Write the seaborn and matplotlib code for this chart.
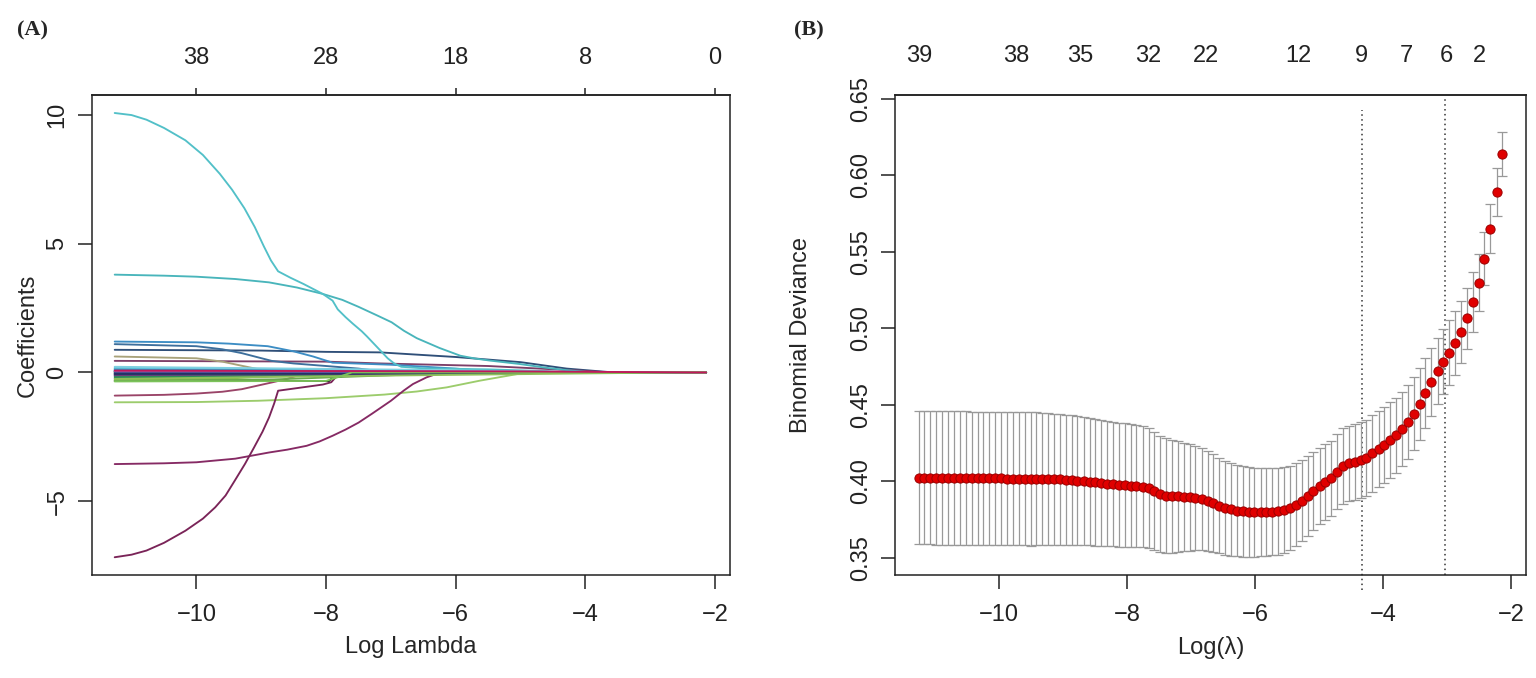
import pandas as pd
import seaborn as sns
import matplotlib.pyplot as plt


# ----------------------------
# Panel A: lasso coefficient paths (knots)
# ----------------------------

L_START, L_END = -11.26, -2.14

cyan1_L = [-11.26, -11.0, -10.77, -10.5, -10.17, -9.9, -9.64, -9.45, -9.26, -9.1,
           -8.96, -8.85, -8.74, -8.55, -8.35, -8.05, -7.90, -7.82, -7.7, -7.59,
           -7.45, -7.37, -7.2, -7.05, -6.95, -6.84, -6.5, -5.5, -4.6, -4.3]
cyan1_c = [10.08, 10.0, 9.82, 9.5, 9.02, 8.45, 7.72, 7.1, 6.38, 5.65,
           4.9, 4.35, 3.93, 3.68, 3.44, 3.05, 2.79, 2.45, 2.15, 1.9,
           1.6, 1.4, 0.95, 0.55, 0.35, 0.22, 0.16, 0.12, 0.05, 0.0]

cyan2_L = [-11.26, -10.5, -10.0, -9.4, -8.88, -8.45, -8.05, -7.75, -7.5, -7.2,
           -6.99, -6.8, -6.6, -6.25, -5.93, -5.7, -5.47, -5.02, -4.6, -4.29, -3.9]
cyan2_c = [3.80, 3.76, 3.72, 3.63, 3.50, 3.30, 3.05, 2.82, 2.55, 2.2,
           1.95, 1.62, 1.33, 0.95, 0.65, 0.54, 0.46, 0.33, 0.18, 0.09, 0.0]

blue1_L = [-11.26, -10.0, -9.5, -8.9, -8.5, -8.2, -7.9, -7.0, -6.0, -5.3]
blue1_c = [1.20, 1.17, 1.12, 1.02, 0.82, 0.62, 0.38, 0.30, 0.15, 0.0]

blue2_L = [-11.26, -10.0, -9.6, -9.3, -8.84, -8.5, -7.5, -7.0]
blue2_c = [1.10, 1.02, 0.90, 0.75, 0.45, 0.35, 0.15, 0.0]

navy_L = [-11.26, -9.0, -8.0, -7.17, -6.0, -5.0, -4.29, -3.57]
navy_c = [0.88, 0.85, 0.80, 0.78, 0.60, 0.40, 0.15, 0.0]

khaki_L = [-11.26, -10.0, -9.6, -9.3, -8.9, -8.7]
khaki_c = [0.62, 0.55, 0.42, 0.26, 0.05, 0.0]

plum_L = [-11.26, -8.0, -7.17, -5.5, -4.08, -3.6]
plum_c = [0.45, 0.42, 0.35, 0.25, 0.07, 0.0]

rose_L = [-11.26, -10.5, -10.0, -9.6, -9.3, -8.84, -8.6, -8.3]
rose_c = [-0.90, -0.87, -0.82, -0.75, -0.65, -0.39, -0.25, 0.0]

lime_L = [-11.26, -10.0, -9.05, -8.0, -7.1, -6.6, -6.14, -5.63, -5.0, -4.9]
lime_c = [-1.16, -1.15, -1.10, -1.0, -0.86, -0.74, -0.58, -0.32, -0.04, 0.0]

purple1_L = [-11.26, -11.0, -10.77, -10.5, -10.17, -9.9, -9.71, -9.55, -9.41, -9.25,
             -9.11, -8.98, -8.88, -8.8, -8.74, -8.05, -7.92, -7.85, -7.5, -7.3]
purple1_c = [-7.18, -7.08, -6.92, -6.62, -6.15, -5.68, -5.24, -4.78, -4.21, -3.55,
             -2.91, -2.3, -1.75, -1.2, -0.71, -0.47, -0.38, -0.18, -0.05, 0.0]

purple2_L = [-11.26, -10.5, -10.0, -9.4, -8.88, -8.6, -8.3, -8.1, -7.9, -7.7,
             -7.5, -7.29, -7.0, -6.8, -6.66, -6.45, -6.3, -6.14]
purple2_c = [-3.56, -3.53, -3.49, -3.35, -3.11, -3.0, -2.85, -2.68, -2.46, -2.22,
             -1.95, -1.6, -1.1, -0.7, -0.45, -0.19, -0.06, 0.0]

black_L = [-11.26, -7.95, -7.9, -7.6, -7.3]
black_c = [-0.33, -0.33, -0.20, -0.08, 0.0]

major_paths = {
    "black":   (black_L, black_c, "#111111"),
    "navy":    (navy_L, navy_c, "#2f4f78"),
    "plum":    (plum_L, plum_c, "#7d3f68"),
    "khaki":   (khaki_L, khaki_c, "#a8a27a"),
    "rose":    (rose_L, rose_c, "#9a4468"),
    "lime":    (lime_L, lime_c, "#9ccc6c"),
    "blue2":   (blue2_L, blue2_c, "#3d6f9c"),
    "blue1":   (blue1_L, blue1_c, "#3c8dc4"),
    "purple2": (purple2_L, purple2_c, "#862a64"),
    "purple1": (purple1_L, purple1_c, "#7a2458"),
    "cyan2":   (cyan2_L, cyan2_c, "#49b5bb"),
    "cyan1":   (cyan1_L, cyan1_c, "#52c0c8"),
}

# small coefficients: start value, one bend, and the log-lambda where they hit zero
minor_start  = [0.03, -0.05, 0.08, -0.12, 0.02, -0.22, 0.12, -0.02, -0.28, 0.05,
                -0.08, 0.15, -0.15, 0.01, -0.32, 0.18, -0.04, 0.06, -0.18, 0.10,
                -0.10, 0.22, -0.06, 0.04, -0.25, -0.35, 0.07]
minor_bend_L = [-11.0, -10.5, -10.5, -10.2, -10.0, -10.0, -9.8, -9.5, -9.5, -9.0,
                -9.0, -9.0, -8.5, -8.5, -8.8, -8.0, -8.0, -7.5, -7.5, -7.0,
                -7.0, -6.5, -6.0, -6.0, -7.0, -8.0, -5.0]
minor_bend_c = [0.02, -0.04, 0.06, -0.10, 0.02, -0.18, 0.10, -0.02, -0.24, 0.04,
                -0.07, 0.12, -0.12, 0.01, -0.27, 0.12, -0.03, 0.05, -0.10, 0.06,
                -0.06, 0.10, -0.04, 0.03, -0.12, -0.33, 0.04]
minor_zero_L = [-10.5, -9.8, -9.5, -9.3, -9.0, -8.9, -8.6, -8.4, -8.1, -7.7,
                -7.0, -6.8, -6.5, -6.3, -5.8, -5.5, -5.2, -4.9, -4.6, -4.4,
                -4.2, -3.8, -3.4, -3.0, -2.6, -7.6, -2.3]
minor_colors = ["#5a3f8f", "#2f9e6e", "#6ec6e0", "#1f2d6b", "#000000", "#3a7d44",
                "#4a9ad6", "#7a3b6f", "#8bc34a", "#2b4f7a", "#1a1a1a", "#3aa0a8",
                "#5b4a9e", "#114b5f", "#6aa84f", "#5bc0de", "#3b3b8f", "#1f5f8b",
                "#2e8b57", "#4682b4", "#6a3d7a", "#7fd0e0", "#223366", "#8e6cc0",
                "#8fbf5a", "#7cc35a", "#c2185b"]

top_pos_A = [-10, -8, -6, -4, -2]
top_lab_A = ["38", "28", "18", "8", "0"]


# ----------------------------
# Panel B: cross-validated binomial deviance
# ----------------------------

log_lambda = [-11.25, -11.16, -11.07, -10.97, -10.88, -10.79, -10.70, -10.61, -10.51, -10.42,
              -10.33, -10.24, -10.15, -10.05, -9.96, -9.87, -9.78, -9.69, -9.59, -9.50,
              -9.41, -9.32, -9.23, -9.13, -9.04, -8.95, -8.86, -8.77, -8.67, -8.58,
              -8.49, -8.40, -8.31, -8.21, -8.12, -8.03, -7.94, -7.85, -7.75, -7.66,
              -7.57, -7.48, -7.39, -7.29, -7.20, -7.11, -7.02, -6.93, -6.83, -6.74,
              -6.65, -6.56, -6.47, -6.37, -6.28, -6.19, -6.10, -6.01, -5.91, -5.82,
              -5.73, -5.64, -5.55, -5.45, -5.36, -5.27, -5.18, -5.09, -4.99, -4.90,
              -4.81, -4.72, -4.63, -4.53, -4.44, -4.35, -4.26, -4.17, -4.07, -3.98,
              -3.89, -3.80, -3.71, -3.61, -3.52, -3.43, -3.34, -3.25, -3.15, -3.06,
              -2.97, -2.88, -2.79, -2.69, -2.60, -2.51, -2.42, -2.33, -2.23, -2.14]

cv_mean = [0.4022, 0.4022, 0.4022, 0.4021, 0.4021, 0.4021, 0.4020, 0.4020, 0.4020, 0.4019,
           0.4019, 0.4019, 0.4018, 0.4018, 0.4018, 0.4017, 0.4017, 0.4016, 0.4016, 0.4015,
           0.4015, 0.4014, 0.4013, 0.4012, 0.4011, 0.4009, 0.4006, 0.4003, 0.4000, 0.3996,
           0.3992, 0.3988, 0.3984, 0.3980, 0.3977, 0.3974, 0.3971, 0.3968, 0.3964, 0.3955,
           0.3935, 0.3915, 0.3905, 0.3902, 0.3900, 0.3897, 0.3894, 0.3890, 0.3884, 0.3872,
           0.3856, 0.3840, 0.3826, 0.3815, 0.3807, 0.3802, 0.3799, 0.3798, 0.3797, 0.3797,
           0.3799, 0.3803, 0.3812, 0.3826, 0.3846, 0.3872, 0.3902, 0.3935, 0.3968, 0.3996,
           0.4018, 0.4061, 0.4100, 0.4116, 0.4126, 0.4137, 0.4152, 0.4181, 0.4209, 0.4235,
           0.4268, 0.4301, 0.4340, 0.4388, 0.4442, 0.4503, 0.4577, 0.4649, 0.4719, 0.4780,
           0.4841, 0.4902, 0.4976, 0.5065, 0.5170, 0.5299, 0.5456, 0.5652, 0.5891, 0.6142]

cv_se = [0.0436, 0.0436, 0.0436, 0.0436, 0.0436, 0.0436, 0.0436, 0.0436, 0.0436, 0.0436,
         0.0436, 0.0436, 0.0436, 0.0436, 0.0436, 0.0436, 0.0436, 0.0436, 0.0436, 0.0436,
         0.0435, 0.0434, 0.0432, 0.0430, 0.0428, 0.0426, 0.0424, 0.0421, 0.0418, 0.0416,
         0.0413, 0.0411, 0.0409, 0.0407, 0.0405, 0.0404, 0.0402, 0.0399, 0.0395, 0.0391,
         0.0386, 0.0381, 0.0375, 0.0369, 0.0362, 0.0355, 0.0348, 0.0341, 0.0334, 0.0327,
         0.0320, 0.0313, 0.0307, 0.0302, 0.0298, 0.0295, 0.0293, 0.0291, 0.0289, 0.0287,
         0.0285, 0.0283, 0.0280, 0.0276, 0.0271, 0.0266, 0.0261, 0.0256, 0.0251, 0.0247,
         0.0246, 0.0246, 0.0247, 0.0248, 0.0249, 0.0250, 0.0250, 0.0250, 0.0249, 0.0248,
         0.0247, 0.0245, 0.0243, 0.0240, 0.0237, 0.0234, 0.0229, 0.0222, 0.0215, 0.0212,
         0.0212, 0.0210, 0.0205, 0.0200, 0.0195, 0.0184, 0.0173, 0.0162, 0.0155, 0.0143]

lambda_lines = [-4.33, -3.04]

top_pos_B = [-11.24, -9.73, -8.72, -7.67, -6.76, -5.32, -4.34, -3.63, -3.02, -2.50]
top_lab_B = ["39", "38", "35", "32", "22", "12", "9", "7", "6", "2"]


# ----------------------------
# Long table for the paths (majors first, small ones drawn on top)
# ----------------------------

rows = []
palette = {}
order = []
for name, (lx_list, cy_list, col) in major_paths.items():
    for lx, cy in zip(lx_list, cy_list):
        rows.append((name, lx, cy))
    rows.append((name, L_END, 0.0))
    palette[name] = col
    order.append(name)
for k in range(len(minor_start)):
    name = f"m{k}"
    pts = [(L_START, minor_start[k]), (minor_bend_L[k], minor_bend_c[k]),
           (minor_zero_L[k], 0.0), (L_END, 0.0)]
    for lx, cy in pts:
        rows.append((name, lx, cy))
    palette[name] = minor_colors[k]
    order.append(name)
paths = pd.DataFrame(rows, columns=["var", "loglam", "coef"])


# ----------------------------
# Figure
# ----------------------------

sns.set_theme(style="ticks")
plt.rcParams["font.family"] = ["Liberation Sans", "DejaVu Sans"]
plt.rcParams["axes.edgecolor"] = "#222222"
plt.rcParams["xtick.color"] = "#222222"
plt.rcParams["ytick.color"] = "#222222"

FS = 17
fig = plt.figure(figsize=(15.36, 6.78), dpi=100)
axA = fig.add_axes([0.0599, 0.1519, 0.4154, 0.708])
axB = fig.add_axes([0.583, 0.1519, 0.4105, 0.708])


def style_axes(ax):
    for s in ax.spines.values():
        s.set_visible(True)
        s.set_linewidth(1.1)
    ax.tick_params(axis="x", direction="out", length=10, width=1.1, pad=11, labelsize=FS)
    ax.tick_params(axis="y", direction="out", length=10, width=1.1, pad=7, labelsize=FS)
    plt.setp(ax.get_yticklabels(), rotation=90, va="center")


# --- (A) ---
sns.lineplot(data=paths, x="loglam", y="coef", hue="var", hue_order=order,
             palette=palette, estimator=None, sort=False, legend=False,
             linewidth=1.35, ax=axA)
axA.set_xlim(-11.61, -1.77)
axA.set_ylim(-7.87, 10.78)
axA.set_xticks([-10, -8, -6, -4, -2])
axA.set_yticks([-5, 0, 5, 10])
style_axes(axA)
axA.set_xlabel("Log Lambda", fontsize=FS)
axA.set_ylabel("Coefficients", fontsize=FS)
axA.xaxis.set_label_coords(0.5, -0.128)
axA.yaxis.set_label_coords(-0.083, 0.5)

topA = axA.secondary_xaxis("top")
topA.set_xticks(top_pos_A, labels=top_lab_A)
topA.tick_params(direction="out", length=5, width=1.1, pad=14, labelsize=FS)
topA.spines["top"].set_linewidth(1.1)

# --- (B) ---
axB.errorbar(log_lambda, cv_mean, yerr=cv_se, fmt="none", ecolor="#999999",
             elinewidth=0.9, capsize=3.6, capthick=0.9, zorder=2)
sns.scatterplot(x=log_lambda, y=cv_mean, color="#e00000", edgecolor="#9b0000",
                linewidth=0.7, s=44, zorder=3, ax=axB)
axB.axvline(lambda_lines[0], ymin=-0.031, ymax=0.969, color="#333333", lw=1.1,
            ls=(0, (1, 2.2)), clip_on=False, zorder=1)
axB.axvline(lambda_lines[1], ymin=0.0, ymax=0.996, color="#333333", lw=1.1,
            ls=(0, (1, 2.2)), zorder=1)
axB.set_xlim(-11.61, -1.77)
axB.set_ylim(0.3386, 0.6526)
axB.set_xticks([-10, -8, -6, -4, -2])
axB.set_yticks([0.35, 0.40, 0.45, 0.50, 0.55, 0.60, 0.65])
style_axes(axB)
axB.set_xlabel("Log(\u03bb)", fontsize=FS)
axB.set_ylabel("Binomial Deviance", fontsize=FS)
axB.xaxis.set_label_coords(0.5, -0.128)
axB.yaxis.set_label_coords(-0.132, 0.5)

topB = axB.secondary_xaxis("top")
topB.set_xticks(top_pos_B, labels=top_lab_B)
topB.tick_params(direction="out", length=0, pad=20, labelsize=FS)
topB.spines["top"].set_linewidth(1.1)

fig.text(17 / 1536, 1 - 30 / 678, "(A)", fontsize=16, fontweight="bold",
         family=["Liberation Serif", "DejaVu Serif"], va="center", ha="left")
fig.text(794 / 1536, 1 - 30 / 678, "(B)", fontsize=16, fontweight="bold",
         family=["Liberation Serif", "DejaVu Serif"], va="center", ha="left")

fig.savefig("out.png", dpi=100)
plt.close(fig)
